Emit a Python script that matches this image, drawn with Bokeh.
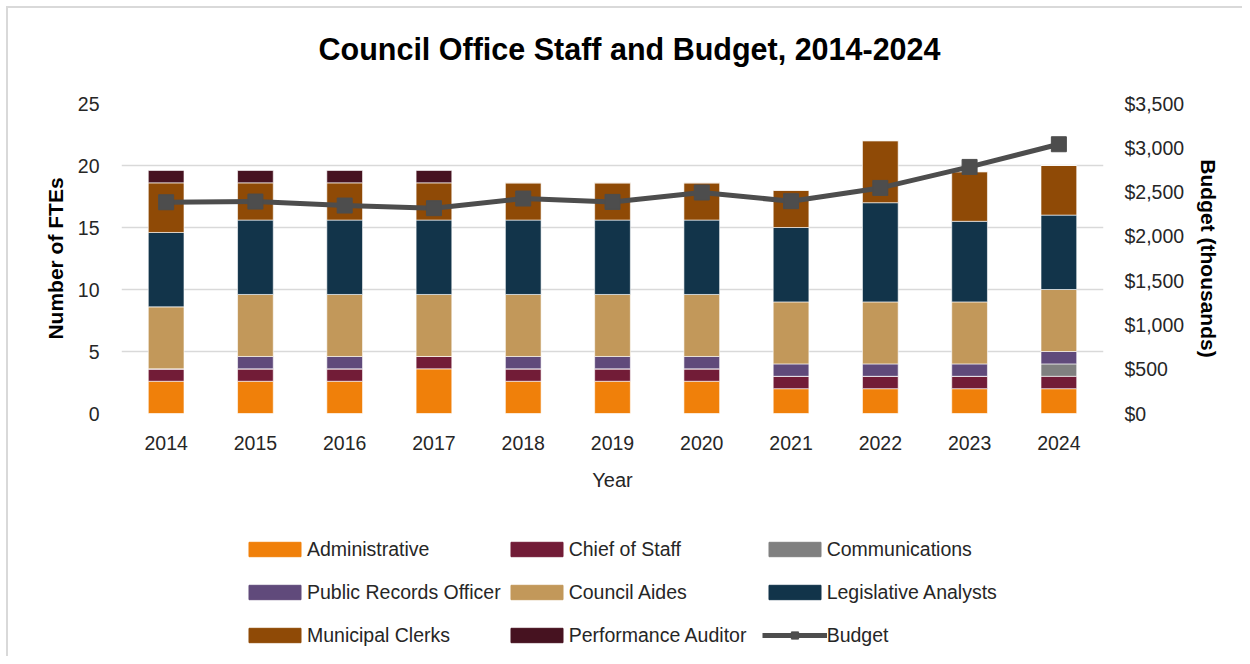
from bokeh.plotting import figure
from bokeh.layouts import column
from bokeh.models import (ColumnDataSource, Range1d, LinearAxis, FixedTicker,
                          NumeralTickFormatter, FactorRange)
from bokeh.embed import file_html
from bokeh.resources import INLINE

years = ["2014", "2015", "2016", "2017", "2018", "2019", "2020", "2021", "2022", "2023", "2024"]
administrative = [2.6, 2.6, 2.6, 3.6, 2.6, 2.6, 2.6, 2, 2, 2, 2]
chief_of_staff = [1, 1, 1, 1, 1, 1, 1, 1, 1, 1, 1]
communications = [0, 0, 0, 0, 0, 0, 0, 0, 0, 0, 1]
public_records_officer = [0, 1, 1, 0, 1, 1, 1, 1, 1, 1, 1]
council_aides = [5, 5, 5, 5, 5, 5, 5, 5, 5, 5, 5]
legislative_analysts = [6, 6, 6, 6, 6, 6, 6, 6, 8, 6.5, 6]
municipal_clerks = [4, 3, 3, 3, 3, 3, 3, 3, 5, 4, 4]
performance_auditor = [1, 1, 1, 1, 0, 0, 0, 0, 0, 0, 0]
budget = [2385, 2393, 2348, 2318, 2427, 2389, 2495, 2397, 2547, 2784, 3040]

series_names = ["Administrative", "Chief of Staff", "Communications", "Public Records Officer",
                "Council Aides", "Legislative Analysts", "Municipal Clerks", "Performance Auditor"]
series_keys = ["administrative", "chief_of_staff", "communications", "public_records_officer",
               "council_aides", "legislative_analysts", "municipal_clerks", "performance_auditor"]
colors = ["#F0800A", "#721C37", "#808080", "#604A7B", "#C2985A", "#12344A", "#8F4A06", "#461220"]
budget_color = "#4D4D4D"

source = ColumnDataSource(dict(
    year=years,
    administrative=administrative,
    chief_of_staff=chief_of_staff,
    communications=communications,
    public_records_officer=public_records_officer,
    council_aides=council_aides,
    legislative_analysts=legislative_analysts,
    municipal_clerks=municipal_clerks,
    performance_auditor=performance_auditor,
    budget=budget,
))

FONT = "Liberation Sans"
TXT = "#262626"
W = 1234
NAN = float("nan")

# ---------- title strip ----------
pt = figure(width=W, height=82, output_backend="svg", toolbar_location=None,
            x_axis_type=None, y_axis_type=None, x_range=Range1d(0, 1), y_range=Range1d(0, 1),
            min_border_left=0, min_border_right=0, min_border_top=0, min_border_bottom=0,
            title="Council Office Staff and Budget, 2014-2024")
pt.outline_line_color = None
pt.grid.visible = False
pt.title.text_font = FONT
pt.title.text_font_size = "30.5px"
pt.title.text_font_style = "bold"
pt.title.text_color = "black"
pt.title.align = "left"
pt.title.offset = 197
pt.title.standoff = 42

# ---------- main chart ----------
p = figure(width=W, height=403, x_range=FactorRange(*years), y_range=Range1d(0, 25),
           output_backend="svg", toolbar_location=None,
           min_border_left=113, min_border_right=139, min_border_top=13, min_border_bottom=80)
p.outline_line_color = None
p.background_fill_color = "white"
p.border_fill_color = "white"

p.extra_y_ranges = {"budget": Range1d(0, 3500)}

p.vbar_stack(series_keys, x="year", width=0.4, color=colors, source=source,
             line_color="white", line_alpha=0.6, line_width=1)

p.line(x="year", y="budget", source=source, y_range_name="budget",
       line_color=budget_color, line_width=5)
p.scatter(x="year", y="budget", source=source, y_range_name="budget", marker="square",
          size=15, fill_color=budget_color, line_color=budget_color)

yax = p.yaxis[0]
yax.ticker = FixedTicker(ticks=[0, 5, 10, 15, 20, 25])
yax.axis_label = "Number of FTEs"
yax.axis_label_text_font = FONT
yax.axis_label_text_font_size = "21px"
yax.axis_label_text_font_style = "bold"
yax.axis_label_text_color = "black"
yax.axis_label_standoff = 8
yax.major_label_text_font = FONT
yax.major_label_text_font_size = "19.5px"
yax.major_label_text_color = TXT
yax.major_label_standoff = 16
yax.axis_line_color = None
yax.major_tick_line_color = None
yax.minor_tick_line_color = None

rax = LinearAxis(y_range_name="budget",
                 ticker=FixedTicker(ticks=[0, 500, 1000, 1500, 2000, 2500, 3000, 3500]),
                 formatter=NumeralTickFormatter(format="$0,0"))
rax.axis_label = "Budget (thousands)"
rax.axis_label_text_font = FONT
rax.axis_label_text_font_size = "21px"
rax.axis_label_text_font_style = "bold"
rax.axis_label_text_color = "black"
rax.axis_label_standoff = 10
rax.major_label_text_font = FONT
rax.major_label_text_font_size = "19.5px"
rax.major_label_text_color = TXT
rax.major_label_standoff = 15
rax.axis_line_color = None
rax.major_tick_line_color = None
rax.minor_tick_line_color = None
p.add_layout(rax, "right")

xax = p.xaxis[0]
xax.axis_label = "Year"
xax.axis_label_text_font = FONT
xax.axis_label_text_font_size = "20px"
xax.axis_label_text_font_style = "normal"
xax.axis_label_text_color = TXT
xax.axis_label_standoff = 16
xax.major_label_text_font = FONT
xax.major_label_text_font_size = "19.5px"
xax.major_label_text_color = TXT
xax.major_label_standoff = 16
xax.axis_line_color = None
xax.major_tick_line_color = None
xax.minor_tick_line_color = None

p.xgrid.grid_line_color = None
p.ygrid.grid_line_color = "#d9d9d9"
p.ygrid.grid_line_width = 1.5
p.x_range.range_padding = 0
p.x_range.group_padding = 0

# ---------- legend strip (proxy renderers hold no drawable points) ----------
pl = figure(width=W, height=163, output_backend="svg", toolbar_location=None,
            x_axis_type=None, y_axis_type=None, x_range=Range1d(0, 1), y_range=Range1d(0, 1),
            min_border_left=0, min_border_right=0, min_border_top=0, min_border_bottom=0)
pl.outline_line_color = None
pl.grid.visible = False
for name, c in zip(series_names, colors):
    pl.vbar(x=[NAN], top=[NAN], width=0.4, color=c, legend_label=name)
pl.line(x=[NAN], y=[NAN], line_color=budget_color, line_width=5, legend_label="Budget")
pl.scatter(x=[NAN], y=[NAN], marker="square", size=15, fill_color=budget_color,
           line_color=budget_color, legend_label="Budget")

lg = pl.legend[0]
lg.orientation = "horizontal"
lg.ncols = 3
lg.location = (121, 1)
lg.padding = 0
lg.margin = 0
lg.spacing = 3
lg.border_line_color = None
lg.background_fill_alpha = 0
lg.glyph_width = 65
lg.glyph_height = 18
lg.label_standoff = 0
lg.label_width = 190
lg.label_height = 40
lg.label_text_font = FONT
lg.label_text_font_size = "19.5px"
lg.label_text_color = TXT

layout = column(pt, p, pl, spacing=0)
layout.styles = {"border-top": "2px solid #d9d9d9", "border-left": "2px solid #d9d9d9",
                 "margin-left": "6px", "margin-top": "6px"}

open("out.html", "w").write(file_html(layout, INLINE))
